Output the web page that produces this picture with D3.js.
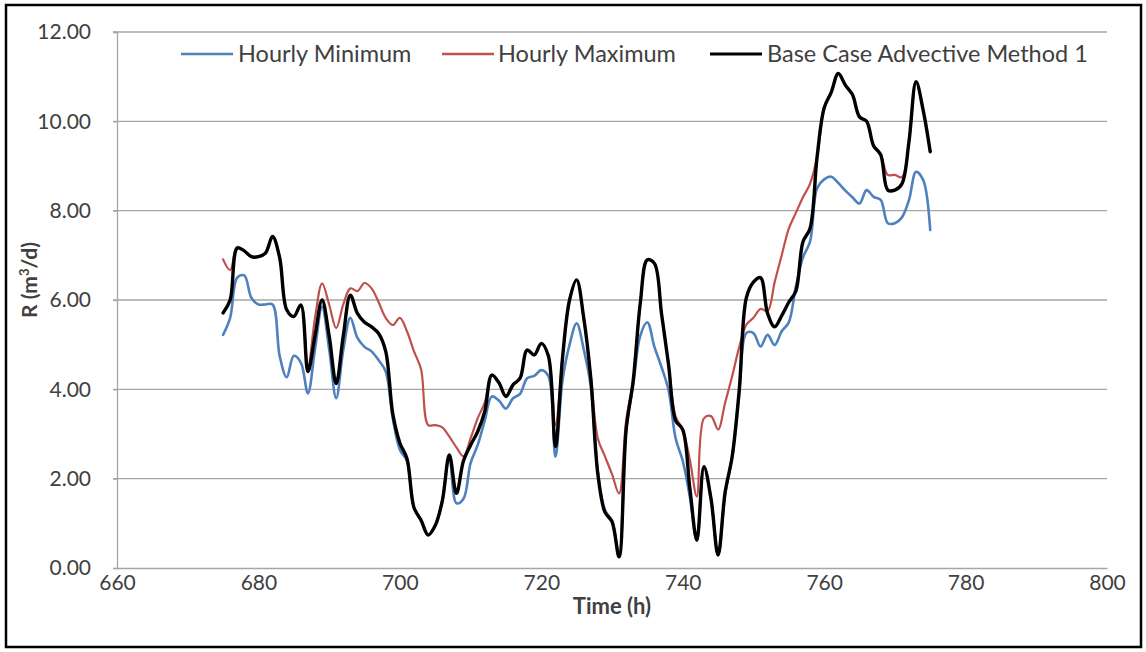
<!DOCTYPE html>
<html>
<head>
<meta charset="utf-8">
<script src="https://cdn.jsdelivr.net/npm/d3@7"></script>
<style>
  html, body { margin: 0; padding: 0; background: #fff; }
  svg { display: block; }
  text { font-family: Lato, "Open Sans", sans-serif; fill: #404040; }
</style>
</head>
<body>
<svg id="chart" width="1146" height="652"></svg>
<script>
// ---- data ----
const hours = d3.range(675, 776); // 675 .. 775 hourly
const hourlyMinimum = [
  5.22, 5.60, 6.50, 6.55, 6.05, 5.90, 5.90, 5.90, 4.75, 4.27,
  4.75, 4.60, 3.91, 4.90, 5.85, 4.90, 3.80, 4.88, 5.60, 5.15,
  4.95, 4.85, 4.65, 4.40, 3.35, 2.65, 2.40, 1.35, 1.07, 0.74,
  0.95, 1.50, 2.50, 1.45, 1.55, 2.35, 2.75, 3.30, 3.84, 3.75,
  3.57, 3.80, 3.90, 4.25, 4.30, 4.43, 4.30, 2.49, 4.20, 5.00,
  5.48, 4.90, 4.06, 2.15, 1.30, 1.05, 0.30, 3.10, 4.10, 5.20,
  5.50, 4.95, 4.50, 3.98, 2.90, 2.40, 1.60, 0.62, 2.27, 1.55,
  0.29, 1.65, 2.50, 3.90, 5.26, 5.26, 4.96, 5.22, 4.99, 5.30,
  5.50, 6.30, 6.95, 7.30, 8.50, 8.70, 8.76, 8.62, 8.45, 8.30,
  8.16, 8.46, 8.31, 8.24, 7.72, 7.72, 7.85, 8.24, 8.87, 8.69,
  7.57
];
const hourlyMaximum = [
  6.91, 6.67, 7.19, 7.10, 6.97, 6.97, 7.05, 7.42, 6.95, 5.78,
  5.63, 5.89, 4.50, 5.60, 6.37, 5.90, 5.37, 5.90, 6.26, 6.20,
  6.38, 6.26, 5.95, 5.60, 5.44, 5.60, 5.30, 4.85, 4.45, 3.20,
  3.20, 3.15, 2.94, 2.70, 2.50, 2.90, 3.35, 3.70, 4.32, 4.15,
  3.84, 4.10, 4.25, 4.88, 4.77, 5.03, 4.75, 3.20, 4.70, 6.00,
  6.45, 5.60, 4.30, 2.90, 2.50, 2.10, 1.67, 3.30, 4.20, 5.93,
  6.90, 6.82, 5.70, 4.55, 3.39, 3.10, 2.43, 1.60, 3.35, 3.40,
  3.10, 3.70, 4.30, 4.95, 5.45, 5.60, 5.80, 5.75, 6.40, 7.00,
  7.60, 7.95, 8.30, 8.60, 9.20, 10.30, 10.65, 11.07, 10.81, 10.60,
  10.10, 10.00, 9.45, 9.25, 8.80, 8.80, 8.75, 9.55, 10.89, 10.25,
  9.32
];
const baseCase = [
  5.71, 6.00, 7.16, 7.10, 6.97, 6.97, 7.05, 7.42, 6.95, 5.78,
  5.63, 5.89, 4.40, 5.20, 6.00, 5.20, 4.13, 5.20, 6.11, 5.70,
  5.50, 5.40, 5.25, 4.85, 3.45, 2.80, 2.45, 1.35, 1.07, 0.74,
  0.95, 1.50, 2.53, 1.67, 2.40, 2.75, 3.05, 3.50, 4.32, 4.15,
  3.84, 4.10, 4.25, 4.88, 4.77, 5.03, 4.75, 2.72, 4.70, 6.00,
  6.45, 5.60, 4.25, 2.10, 1.25, 1.04, 0.25, 3.10, 4.20, 5.93,
  6.90, 6.82, 5.70, 4.55, 3.30, 3.10, 1.80, 0.62, 2.27, 1.55,
  0.29, 1.70, 2.50, 4.00, 6.05, 6.40, 6.50, 5.70, 5.40, 5.65,
  5.95, 6.20, 7.30, 7.60, 9.20, 10.30, 10.65, 11.07, 10.81, 10.60,
  10.10, 10.00, 9.45, 9.25, 8.46, 8.46, 8.60, 9.55, 10.89, 10.25,
  9.32
];
const xTicks = [660, 680, 700, 720, 740, 760, 780, 800];
const yTicks = [0, 2, 4, 6, 8, 10, 12];
const seriesNames = ["Hourly Minimum", "Hourly Maximum", "Base Case Advective Method 1"];
const seriesColors = ["#4f81bd", "#c0504d", "#000000"];

// ---- drawing ----
const svg = d3.select("#chart");
const plot = { left: 117, right: 1107, top: 32, bottom: 568 };

svg.append("rect").attr("x", 6).attr("y", 5).attr("width", 1135).attr("height", 642)
  .attr("fill", "#fff").attr("stroke", "#000").attr("stroke-width", 2.5);

const x = d3.scaleLinear().domain([660, 800]).range([plot.left, plot.right]);
const y = d3.scaleLinear().domain([0, 12]).range([plot.bottom, plot.top]);

// gridlines
svg.append("g").selectAll("line").data(yTicks.filter(d => d > 0)).join("line")
  .attr("x1", plot.left - 4).attr("x2", plot.right)
  .attr("y1", d => y(d)).attr("y2", d => y(d))
  .attr("stroke", "#a6a6a6").attr("stroke-width", 1.3);

// y axis
const yAxis = svg.append("g").attr("transform", `translate(${plot.left},0)`)
  .call(d3.axisLeft(y).tickValues(yTicks).tickFormat(d3.format(".2f")).tickSize(4).tickPadding(22));
yAxis.select(".domain").attr("stroke", "#a6a6a6").attr("stroke-width", 1.3);
yAxis.selectAll(".tick line").attr("stroke", "#a6a6a6").attr("stroke-width", 1.3);
yAxis.selectAll("text").style("font-size", "21px").attr("fill", "#404040")
  .style("font-family", "Lato, sans-serif");

// x axis
const xAxis = svg.append("g").attr("transform", `translate(0,${plot.bottom})`)
  .call(d3.axisBottom(x).tickValues(xTicks).tickFormat(d3.format("d")).tickSize(0).tickPadding(7));
xAxis.select(".domain").attr("stroke", "#a6a6a6").attr("stroke-width", 1.3);
xAxis.selectAll("text").style("font-size", "21px").attr("fill", "#404040")
  .style("font-family", "Lato, sans-serif");

// axis titles
svg.append("text").attr("x", 612).attr("y", 614)
  .attr("text-anchor", "middle").style("font-size", "22px").style("font-weight", "bold")
  .attr("fill", "#262626").text("Time (h)");
const yt = svg.append("text").attr("transform", `translate(37,280) rotate(-90)`)
  .attr("text-anchor", "middle").style("font-size", "21px").style("font-weight", "bold")
  .attr("fill", "#262626");
yt.append("tspan").text("R (m");
yt.append("tspan").attr("baseline-shift", "super").style("font-size", "13px").text("3");
yt.append("tspan").text("/d)");

// lines
const allSeries = [hourlyMinimum, hourlyMaximum, baseCase];
const widths = [2.6, 2.2, 3.4];
const line = d3.line().x((d, i) => x(hours[i])).y(d => y(d)).curve(d3.curveCatmullRom.alpha(0.5));
allSeries.forEach((s, k) => {
  svg.append("path").datum(s).attr("d", line).attr("fill", "none")
    .attr("stroke", seriesColors[k]).attr("stroke-width", widths[k])
    .attr("stroke-linejoin", "round").attr("stroke-linecap", "round");
});

// legend
const legendPos = [{ lx: 181, tx: 238 }, { lx: 442, tx: 498 }, { lx: 710, tx: 767 }];
const lg = svg.append("g");
seriesNames.forEach((n, k) => {
  lg.append("line").attr("x1", legendPos[k].lx).attr("x2", legendPos[k].lx + 52)
    .attr("y1", 54).attr("y2", 54).attr("stroke", seriesColors[k]).attr("stroke-width", k === 2 ? 3 : 2.6);
  lg.append("text").attr("x", legendPos[k].tx).attr("y", 62).style("font-size", "23.5px")
    .attr("fill", "#404040").text(n);
});
</script>
</body>
</html>
